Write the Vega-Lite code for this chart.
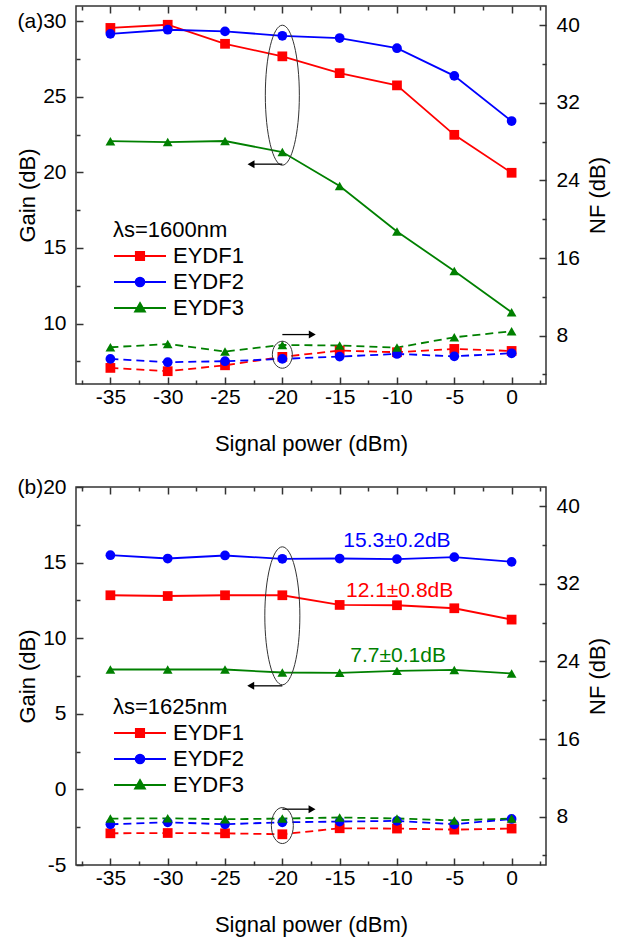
{
  "$schema": "https://vega.github.io/schema/vega-lite/v6.json",
  "background": "white",
  "padding": {"left": 15, "top": 4, "right": 5, "bottom": 5},
  "spacing": 20,
  "config": {
    "view": {"stroke": "#333", "strokeWidth": 1.5},
    "font": "Liberation Sans",
    "axis": {"grid": false, "domain": false, "labelFont": "Liberation Sans", "labelFontSize": 21, "labelColor": "#000", "titleFont": "Liberation Sans", "titleFontSize": 22, "titleFontWeight": "normal", "titleColor": "#000", "tickColor": "#333", "tickWidth": 1.5, "labelPadding": 17, "labelFlush": false, "labelOverlap": false},
    "legend": {"padding": 0, "labelFont": "Liberation Sans", "labelFontSize": 22, "labelColor": "#000", "titleFont": "Liberation Sans", "titleFontSize": 22, "titleFontWeight": "normal", "titleColor": "#000", "labelLimit": 200, "titleLimit": 300}
  },
  "datasets": {
    "a": [
      {"power": -35, "series": "EYDF1", "gain": 29.55, "nf": 4.66},
      {"power": -30, "series": "EYDF1", "gain": 29.76, "nf": 4.32},
      {"power": -25, "series": "EYDF1", "gain": 28.5, "nf": 4.93},
      {"power": -20, "series": "EYDF1", "gain": 27.67, "nf": 5.8},
      {"power": -15, "series": "EYDF1", "gain": 26.56, "nf": 6.45},
      {"power": -10, "series": "EYDF1", "gain": 25.75, "nf": 6.28},
      {"power": -5, "series": "EYDF1", "gain": 22.48, "nf": 6.62},
      {"power": 0, "series": "EYDF1", "gain": 19.97, "nf": 6.41},
      {"power": -35, "series": "EYDF2", "gain": 29.16, "nf": 5.59},
      {"power": -30, "series": "EYDF2", "gain": 29.43, "nf": 5.25},
      {"power": -25, "series": "EYDF2", "gain": 29.32, "nf": 5.35},
      {"power": -20, "series": "EYDF2", "gain": 29.03, "nf": 5.59},
      {"power": -15, "series": "EYDF2", "gain": 28.88, "nf": 5.83},
      {"power": -10, "series": "EYDF2", "gain": 28.21, "nf": 6.1},
      {"power": -5, "series": "EYDF2", "gain": 26.38, "nf": 5.86},
      {"power": 0, "series": "EYDF2", "gain": 23.39, "nf": 6.17},
      {"power": -35, "series": "EYDF3", "gain": 22.06, "nf": 6.79},
      {"power": -30, "series": "EYDF3", "gain": 22.0, "nf": 7.13},
      {"power": -25, "series": "EYDF3", "gain": 22.07, "nf": 6.35},
      {"power": -20, "series": "EYDF3", "gain": 21.34, "nf": 7.03},
      {"power": -15, "series": "EYDF3", "gain": 19.1, "nf": 6.97},
      {"power": -10, "series": "EYDF3", "gain": 16.09, "nf": 6.76},
      {"power": -5, "series": "EYDF3", "gain": 13.47, "nf": 7.82},
      {"power": 0, "series": "EYDF3", "gain": 10.75, "nf": 8.44}
    ],
    "b": [
      {"power": -35, "series": "EYDF1", "gain": 12.84, "nf": 6.27},
      {"power": -30, "series": "EYDF1", "gain": 12.79, "nf": 6.3},
      {"power": -25, "series": "EYDF1", "gain": 12.84, "nf": 6.27},
      {"power": -20, "series": "EYDF1", "gain": 12.84, "nf": 6.17},
      {"power": -15, "series": "EYDF1", "gain": 12.2, "nf": 6.79},
      {"power": -10, "series": "EYDF1", "gain": 12.18, "nf": 6.76},
      {"power": -5, "series": "EYDF1", "gain": 11.98, "nf": 6.65},
      {"power": 0, "series": "EYDF1", "gain": 11.23, "nf": 6.76},
      {"power": -35, "series": "EYDF2", "gain": 15.49, "nf": 7.2},
      {"power": -30, "series": "EYDF2", "gain": 15.27, "nf": 7.41},
      {"power": -25, "series": "EYDF2", "gain": 15.47, "nf": 7.2},
      {"power": -20, "series": "EYDF2", "gain": 15.25, "nf": 7.41},
      {"power": -15, "series": "EYDF2", "gain": 15.27, "nf": 7.48},
      {"power": -10, "series": "EYDF2", "gain": 15.23, "nf": 7.55},
      {"power": -5, "series": "EYDF2", "gain": 15.36, "nf": 7.2},
      {"power": 0, "series": "EYDF2", "gain": 15.05, "nf": 7.75},
      {"power": -35, "series": "EYDF3", "gain": 7.93, "nf": 7.79},
      {"power": -30, "series": "EYDF3", "gain": 7.93, "nf": 7.82},
      {"power": -25, "series": "EYDF3", "gain": 7.93, "nf": 7.72},
      {"power": -20, "series": "EYDF3", "gain": 7.73, "nf": 7.79},
      {"power": -15, "series": "EYDF3", "gain": 7.71, "nf": 7.9},
      {"power": -10, "series": "EYDF3", "gain": 7.84, "nf": 7.8},
      {"power": -5, "series": "EYDF3", "gain": 7.9, "nf": 7.6},
      {"power": 0, "series": "EYDF3", "gain": 7.67, "nf": 7.8}
    ]
  },
  "vconcat": [
    {
      "width": 470,
      "height": 378,
      "layer": [
        {
          "layer": [
            {
              "data": {"name": "a"},
              "mark": {"type": "point", "filled": true, "opacity": 0},
              "encoding": {
                "x": {"field": "power", "type": "quantitative", "scale": {"domain": [-38, 3], "nice": false, "zero": false}, "axis": null},
                "y": {"field": "gain", "type": "quantitative", "scale": {"domain": [6, 31], "nice": false, "zero": false}, "axis": null},
                "fill": {"field": "series", "type": "nominal", "scale": {"domain": ["EYDF1", "EYDF2", "EYDF3"], "range": ["#ff0000", "#0000ff", "#008000"]},
                  "legend": {"title": "λs=1600nm", "orient": "none", "legendX": 37, "legendY": 214, "symbolSize": 2704, "symbolStrokeWidth": 1.8, "symbolOpacity": 1, "clipHeight": 26, "labelOffset": 6, "rowPadding": 0, "titlePadding": 1}},
                "stroke": {"field": "series", "type": "nominal", "scale": {"domain": ["EYDF1", "EYDF2", "EYDF3"], "range": ["#ff0000", "#0000ff", "#008000"]},
                  "legend": {"title": "λs=1600nm", "orient": "none", "legendX": 37, "legendY": 214, "symbolSize": 2704, "symbolStrokeWidth": 1.8, "symbolOpacity": 1, "clipHeight": 26, "labelOffset": 6, "rowPadding": 0, "titlePadding": 1}},
                "shape": {"field": "series", "type": "nominal", "scale": {"domain": ["EYDF1", "EYDF2", "EYDF3"], "range": ["M-1,0H1M-0.16,-0.16H0.16V0.16H-0.16Z", "M-1,0H1M0.17,0C0.17,0.094 0.094,0.17 0,0.17C-0.094,0.17 -0.17,0.094 -0.17,0C-0.17,-0.094 -0.094,-0.17 0,-0.17C0.094,-0.17 0.17,-0.094 0.17,0Z", "M-1,0H1M0,-0.19L0.19,0.14L-0.19,0.14Z"]},
                  "legend": {"title": "λs=1600nm", "orient": "none", "legendX": 37, "legendY": 214, "symbolSize": 2704, "symbolStrokeWidth": 1.8, "symbolOpacity": 1, "clipHeight": 26, "labelOffset": 6, "rowPadding": 0, "titlePadding": 1}}
              }
            },
            {
              "data": {"name": "a"},
              "mark": {"type": "line", "strokeWidth": 1.8},
              "encoding": {
                "x": {"field": "power", "type": "quantitative", "scale": {"domain": [-38, 3], "nice": false, "zero": false},
                  "axis": {"orient": "bottom", "values": [-35, -30, -25, -20, -15, -10, -5, 0],
                    "labelExpr": "'' + datum.value", "tickSize": -7, "labelPadding": 9,
                    "title": "Signal power (dBm)", "titlePadding": 26}},
                "y": {"field": "gain", "type": "quantitative", "scale": {"domain": [6, 31], "nice": false, "zero": false},
                  "axis": {"orient": "left", "values": [10, 15, 20, 25, 30],
                    "labelExpr": "datum.value === 30 ? '(a)30' : '' + datum.value", "tickSize": -7,
                    "title": "Gain (dB)", "titleX": -49, "titleBaseline": "middle", "titleAngle": 270}},
                "color": {"field": "series", "type": "nominal", "scale": {"range": ["#ff0000", "#0000ff", "#008000"]}, "legend": null}
              }
            },
            {
              "data": {"name": "a"},
              "mark": {"type": "point", "filled": true, "size": 95, "opacity": 1, "shape": {"expr": "datum.series === 'EYDF1' ? 'square' : datum.series === 'EYDF2' ? 'circle' : 'triangle-up'"}},
              "encoding": {
                "x": {"field": "power", "type": "quantitative", "scale": {"domain": [-38, 3], "nice": false, "zero": false},
                  "axis": {"orient": "bottom", "values": [-37.5, -32.5, -27.5, -22.5, -17.5, -12.5, -7.5, -2.5, 2.5], "labels": false, "title": null, "tickSize": -4}},
                "y": {"field": "gain", "type": "quantitative", "scale": {"domain": [6, 31], "nice": false, "zero": false},
                  "axis": {"orient": "left", "values": [7.5, 12.5, 17.5, 22.5, 27.5], "labels": false, "title": null, "tickSize": -4}},
                "color": {"field": "series", "type": "nominal", "scale": {"range": ["#ff0000", "#0000ff", "#008000"]}, "legend": null}
              }
            },
            {
              "data": {"values": [{"power": -20, "gain": 25.1}]},
              "mark": {"type": "point", "shape": "M0,-1C0.134,-1 0.243,-0.552 0.243,0C0.243,0.552 0.134,1 0,1C-0.134,1 -0.243,0.552 -0.243,0C-0.243,-0.552 -0.134,-1 0,-1Z", "size": 19600, "filled": false, "stroke": "#333", "strokeWidth": 1, "opacity": 1},
              "encoding": {
                "x": {"field": "power", "type": "quantitative", "scale": {"domain": [-38, 3], "nice": false, "zero": false}, "axis": null},
                "y": {"field": "gain", "type": "quantitative", "scale": {"domain": [6, 31], "nice": false, "zero": false}, "axis": null}
              }
            },
            {
              "data": {"values": [{"power": -20, "power2": -22.5, "gain": 20.54}]},
              "mark": {"type": "rule", "color": "#000", "strokeWidth": 1.3},
              "encoding": {
                "x": {"field": "power", "type": "quantitative", "scale": {"domain": [-38, 3], "nice": false, "zero": false}, "axis": null},
                "x2": {"field": "power2"},
                "y": {"field": "gain", "type": "quantitative", "scale": {"domain": [6, 31], "nice": false, "zero": false}, "axis": null}
              }
            },
            {
              "data": {"values": [{"power": -22.73, "gain": 20.54}]},
              "mark": {"type": "point", "shape": "triangle-left", "size": 64, "filled": true, "color": "#000", "opacity": 1},
              "encoding": {
                "x": {"field": "power", "type": "quantitative", "scale": {"domain": [-38, 3], "nice": false, "zero": false}, "axis": null},
                "y": {"field": "gain", "type": "quantitative", "scale": {"domain": [6, 31], "nice": false, "zero": false}, "axis": null}
              }
            }
          ],
          "resolve": {"axis": {"x": "independent", "y": "independent"}}
        },
        {
          "layer": [
            {
              "data": {"name": "a"},
              "mark": {"type": "line", "strokeWidth": 1.8, "strokeDash": [8, 5]},
              "encoding": {
                "x": {"field": "power", "type": "quantitative", "scale": {"domain": [-38, 3], "nice": false, "zero": false},
                  "axis": {"orient": "top", "values": [-35, -30, -25, -20, -15, -10, -5, 0], "labels": false, "title": null, "tickSize": -7}},
                "y": {"field": "nf", "type": "quantitative", "scale": {"domain": [3, 42], "nice": false, "zero": false},
                  "axis": {"orient": "right", "values": [8, 16, 24, 32, 40], "labelExpr": "'' + datum.value", "tickSize": -7,
                    "title": "NF (dB)", "titleX": 51, "titleBaseline": "middle", "titleAngle": 270}},
                "color": {"field": "series", "type": "nominal", "scale": {"range": ["#ff0000", "#0000ff", "#008000"]}, "legend": null}
              }
            },
            {
              "data": {"name": "a"},
              "mark": {"type": "point", "filled": true, "size": 95, "opacity": 1, "shape": {"expr": "datum.series === 'EYDF1' ? 'square' : datum.series === 'EYDF2' ? 'circle' : 'triangle-up'"}},
              "encoding": {
                "x": {"field": "power", "type": "quantitative", "scale": {"domain": [-38, 3], "nice": false, "zero": false},
                  "axis": {"orient": "top", "values": [-37.5, -32.5, -27.5, -22.5, -17.5, -12.5, -7.5, -2.5, 2.5], "labels": false, "title": null, "tickSize": -4}},
                "y": {"field": "nf", "type": "quantitative", "scale": {"domain": [3, 42], "nice": false, "zero": false},
                  "axis": {"orient": "right", "values": [4, 12, 20, 28, 36], "labels": false, "title": null, "tickSize": -4}},
                "color": {"field": "series", "type": "nominal", "scale": {"range": ["#ff0000", "#0000ff", "#008000"]}, "legend": null}
              }
            },
            {
              "data": {"values": [{"power": -20, "nf": 6.02}]},
              "mark": {"type": "point", "shape": "M0,-1C0.409,-1 0.74,-0.552 0.74,0C0.74,0.552 0.409,1 0,1C-0.409,1 -0.74,0.552 -0.74,0C-0.74,-0.552 -0.409,-1 0,-1Z", "size": 729, "filled": false, "stroke": "#333", "strokeWidth": 1, "opacity": 1},
              "encoding": {
                "x": {"field": "power", "type": "quantitative", "scale": {"domain": [-38, 3], "nice": false, "zero": false}, "axis": null},
                "y": {"field": "nf", "type": "quantitative", "scale": {"domain": [3, 42], "nice": false, "zero": false}, "axis": null}
              }
            },
            {
              "data": {"values": [{"power": -20, "power2": -17.6, "nf": 8.1}]},
              "mark": {"type": "rule", "color": "#000", "strokeWidth": 1.3},
              "encoding": {
                "x": {"field": "power", "type": "quantitative", "scale": {"domain": [-38, 3], "nice": false, "zero": false}, "axis": null},
                "x2": {"field": "power2"},
                "y": {"field": "nf", "type": "quantitative", "scale": {"domain": [3, 42], "nice": false, "zero": false}, "axis": null}
              }
            },
            {
              "data": {"values": [{"power": -17.39, "nf": 8.1}]},
              "mark": {"type": "point", "shape": "triangle-right", "size": 64, "filled": true, "color": "#000", "opacity": 1},
              "encoding": {
                "x": {"field": "power", "type": "quantitative", "scale": {"domain": [-38, 3], "nice": false, "zero": false}, "axis": null},
                "y": {"field": "nf", "type": "quantitative", "scale": {"domain": [3, 42], "nice": false, "zero": false}, "axis": null}
              }
            }
          ],
          "resolve": {"axis": {"x": "independent", "y": "independent"}}
        }
      ],
      "resolve": {"scale": {"y": "independent"}, "axis": {"x": "independent", "y": "independent"}}
    },
    {
      "width": 470,
      "height": 378,
      "layer": [
        {
          "layer": [
            {
              "data": {"name": "b"},
              "mark": {"type": "point", "filled": true, "opacity": 0},
              "encoding": {
                "x": {"field": "power", "type": "quantitative", "scale": {"domain": [-38, 3], "nice": false, "zero": false}, "axis": null},
                "y": {"field": "gain", "type": "quantitative", "scale": {"domain": [-5, 20], "nice": false, "zero": false}, "axis": null},
                "fill": {"field": "series", "type": "nominal", "scale": {"domain": ["EYDF1", "EYDF2", "EYDF3"], "range": ["#ff0000", "#0000ff", "#008000"]},
                  "legend": {"title": "λs=1625nm", "orient": "none", "legendX": 37, "legendY": 210, "symbolSize": 2704, "symbolStrokeWidth": 1.8, "symbolOpacity": 1, "clipHeight": 26, "labelOffset": 6, "rowPadding": 0, "titlePadding": 1}},
                "stroke": {"field": "series", "type": "nominal", "scale": {"domain": ["EYDF1", "EYDF2", "EYDF3"], "range": ["#ff0000", "#0000ff", "#008000"]},
                  "legend": {"title": "λs=1625nm", "orient": "none", "legendX": 37, "legendY": 210, "symbolSize": 2704, "symbolStrokeWidth": 1.8, "symbolOpacity": 1, "clipHeight": 26, "labelOffset": 6, "rowPadding": 0, "titlePadding": 1}},
                "shape": {"field": "series", "type": "nominal", "scale": {"domain": ["EYDF1", "EYDF2", "EYDF3"], "range": ["M-1,0H1M-0.16,-0.16H0.16V0.16H-0.16Z", "M-1,0H1M0.17,0C0.17,0.094 0.094,0.17 0,0.17C-0.094,0.17 -0.17,0.094 -0.17,0C-0.17,-0.094 -0.094,-0.17 0,-0.17C0.094,-0.17 0.17,-0.094 0.17,0Z", "M-1,0H1M0,-0.19L0.19,0.14L-0.19,0.14Z"]},
                  "legend": {"title": "λs=1625nm", "orient": "none", "legendX": 37, "legendY": 210, "symbolSize": 2704, "symbolStrokeWidth": 1.8, "symbolOpacity": 1, "clipHeight": 26, "labelOffset": 6, "rowPadding": 0, "titlePadding": 1}}
              }
            },
            {
              "data": {"name": "b"},
              "mark": {"type": "line", "strokeWidth": 1.8},
              "encoding": {
                "x": {"field": "power", "type": "quantitative", "scale": {"domain": [-38, 3], "nice": false, "zero": false},
                  "axis": {"orient": "bottom", "values": [-35, -30, -25, -20, -15, -10, -5, 0],
                    "labelExpr": "'' + datum.value", "tickSize": -7, "labelPadding": 9,
                    "title": "Signal power (dBm)", "titlePadding": 26}},
                "y": {"field": "gain", "type": "quantitative", "scale": {"domain": [-5, 20], "nice": false, "zero": false},
                  "axis": {"orient": "left", "values": [-5, 0, 5, 10, 15, 20],
                    "labelExpr": "datum.value === 20 ? '(b)20' : '' + datum.value", "tickSize": -7,
                    "title": "Gain (dB)", "titleX": -49, "titleBaseline": "middle", "titleAngle": 270}},
                "color": {"field": "series", "type": "nominal", "scale": {"range": ["#ff0000", "#0000ff", "#008000"]}, "legend": null}
              }
            },
            {
              "data": {"name": "b"},
              "mark": {"type": "point", "filled": true, "size": 95, "opacity": 1, "shape": {"expr": "datum.series === 'EYDF1' ? 'square' : datum.series === 'EYDF2' ? 'circle' : 'triangle-up'"}},
              "encoding": {
                "x": {"field": "power", "type": "quantitative", "scale": {"domain": [-38, 3], "nice": false, "zero": false},
                  "axis": {"orient": "bottom", "values": [-37.5, -32.5, -27.5, -22.5, -17.5, -12.5, -7.5, -2.5, 2.5], "labels": false, "title": null, "tickSize": -4}},
                "y": {"field": "gain", "type": "quantitative", "scale": {"domain": [-5, 20], "nice": false, "zero": false},
                  "axis": {"orient": "left", "values": [-2.5, 2.5, 7.5, 12.5, 17.5], "labels": false, "title": null, "tickSize": -4}},
                "color": {"field": "series", "type": "nominal", "scale": {"range": ["#ff0000", "#0000ff", "#008000"]}, "legend": null}
              }
            },
            {
              "data": {"values": [
                {"power": -10.0, "gain": 16.42, "series": "EYDF2", "label": "15.3±0.2dB"},
                {"power": -9.77, "gain": 13.12, "series": "EYDF1", "label": "12.1±0.8dB"},
                {"power": -9.9, "gain": 8.81, "series": "EYDF3", "label": "7.7±0.1dB"}
              ]},
              "mark": {"type": "text", "font": "Liberation Sans", "fontSize": 21, "baseline": "middle", "align": "center"},
              "encoding": {
                "x": {"field": "power", "type": "quantitative", "scale": {"domain": [-38, 3], "nice": false, "zero": false}, "axis": null},
                "y": {"field": "gain", "type": "quantitative", "scale": {"domain": [-5, 20], "nice": false, "zero": false}, "axis": null},
                "text": {"field": "label"},
                "color": {"field": "series", "type": "nominal", "scale": {"range": ["#ff0000", "#0000ff", "#008000"]}, "legend": null}
              }
            },
            {
              "data": {"values": [{"power": -20, "gain": 11.48}]},
              "mark": {"type": "point", "shape": "M0,-1C0.14,-1 0.254,-0.552 0.254,0C0.254,0.552 0.14,1 0,1C-0.14,1 -0.254,0.552 -0.254,0C-0.254,-0.552 -0.14,-1 0,-1Z", "size": 19044, "filled": false, "stroke": "#333", "strokeWidth": 1, "opacity": 1},
              "encoding": {
                "x": {"field": "power", "type": "quantitative", "scale": {"domain": [-38, 3], "nice": false, "zero": false}, "axis": null},
                "y": {"field": "gain", "type": "quantitative", "scale": {"domain": [-5, 20], "nice": false, "zero": false}, "axis": null}
              }
            },
            {
              "data": {"values": [{"power": -20, "power2": -22.5, "gain": 6.85}]},
              "mark": {"type": "rule", "color": "#000", "strokeWidth": 1.3},
              "encoding": {
                "x": {"field": "power", "type": "quantitative", "scale": {"domain": [-38, 3], "nice": false, "zero": false}, "axis": null},
                "x2": {"field": "power2"},
                "y": {"field": "gain", "type": "quantitative", "scale": {"domain": [-5, 20], "nice": false, "zero": false}, "axis": null}
              }
            },
            {
              "data": {"values": [{"power": -22.76, "gain": 6.85}]},
              "mark": {"type": "point", "shape": "triangle-left", "size": 64, "filled": true, "color": "#000", "opacity": 1},
              "encoding": {
                "x": {"field": "power", "type": "quantitative", "scale": {"domain": [-38, 3], "nice": false, "zero": false}, "axis": null},
                "y": {"field": "gain", "type": "quantitative", "scale": {"domain": [-5, 20], "nice": false, "zero": false}, "axis": null}
              }
            }
          ],
          "resolve": {"axis": {"x": "independent", "y": "independent"}}
        },
        {
          "layer": [
            {
              "data": {"name": "b"},
              "mark": {"type": "line", "strokeWidth": 1.8, "strokeDash": [8, 5]},
              "encoding": {
                "x": {"field": "power", "type": "quantitative", "scale": {"domain": [-38, 3], "nice": false, "zero": false},
                  "axis": {"orient": "top", "values": [-35, -30, -25, -20, -15, -10, -5, 0], "labels": false, "title": null, "tickSize": -7}},
                "y": {"field": "nf", "type": "quantitative", "scale": {"domain": [3, 42], "nice": false, "zero": false},
                  "axis": {"orient": "right", "values": [8, 16, 24, 32, 40], "labelExpr": "'' + datum.value", "tickSize": -7,
                    "title": "NF (dB)", "titleX": 51, "titleBaseline": "middle", "titleAngle": 270}},
                "color": {"field": "series", "type": "nominal", "scale": {"range": ["#ff0000", "#0000ff", "#008000"]}, "legend": null}
              }
            },
            {
              "data": {"name": "b"},
              "mark": {"type": "point", "filled": true, "size": 95, "opacity": 1, "shape": {"expr": "datum.series === 'EYDF1' ? 'square' : datum.series === 'EYDF2' ? 'circle' : 'triangle-up'"}},
              "encoding": {
                "x": {"field": "power", "type": "quantitative", "scale": {"domain": [-38, 3], "nice": false, "zero": false},
                  "axis": {"orient": "top", "values": [-37.5, -32.5, -27.5, -22.5, -17.5, -12.5, -7.5, -2.5, 2.5], "labels": false, "title": null, "tickSize": -4}},
                "y": {"field": "nf", "type": "quantitative", "scale": {"domain": [3, 42], "nice": false, "zero": false},
                  "axis": {"orient": "right", "values": [4, 12, 20, 28, 36], "labels": false, "title": null, "tickSize": -4}},
                "color": {"field": "series", "type": "nominal", "scale": {"range": ["#ff0000", "#0000ff", "#008000"]}, "legend": null}
              }
            },
            {
              "data": {"values": [{"power": -20, "nf": 7.07}]},
              "mark": {"type": "point", "shape": "M0,-1C0.337,-1 0.61,-0.552 0.61,0C0.61,0.552 0.337,1 0,1C-0.337,1 -0.61,0.552 -0.61,0C-0.61,-0.552 -0.337,-1 0,-1Z", "size": 1296, "filled": false, "stroke": "#333", "strokeWidth": 1, "opacity": 1},
              "encoding": {
                "x": {"field": "power", "type": "quantitative", "scale": {"domain": [-38, 3], "nice": false, "zero": false}, "axis": null},
                "y": {"field": "nf", "type": "quantitative", "scale": {"domain": [3, 42], "nice": false, "zero": false}, "axis": null}
              }
            },
            {
              "data": {"values": [{"power": -20, "power2": -17.6, "nf": 8.76}]},
              "mark": {"type": "rule", "color": "#000", "strokeWidth": 1.3},
              "encoding": {
                "x": {"field": "power", "type": "quantitative", "scale": {"domain": [-38, 3], "nice": false, "zero": false}, "axis": null},
                "x2": {"field": "power2"},
                "y": {"field": "nf", "type": "quantitative", "scale": {"domain": [3, 42], "nice": false, "zero": false}, "axis": null}
              }
            },
            {
              "data": {"values": [{"power": -17.41, "nf": 8.76}]},
              "mark": {"type": "point", "shape": "triangle-right", "size": 64, "filled": true, "color": "#000", "opacity": 1},
              "encoding": {
                "x": {"field": "power", "type": "quantitative", "scale": {"domain": [-38, 3], "nice": false, "zero": false}, "axis": null},
                "y": {"field": "nf", "type": "quantitative", "scale": {"domain": [3, 42], "nice": false, "zero": false}, "axis": null}
              }
            }
          ],
          "resolve": {"axis": {"x": "independent", "y": "independent"}}
        }
      ],
      "resolve": {"scale": {"y": "independent"}, "axis": {"x": "independent", "y": "independent"}}
    }
  ],
  "resolve": {"scale": {"x": "independent", "y": "independent", "color": "independent", "fill": "independent", "stroke": "independent", "shape": "independent"}, "legend": {"fill": "independent", "stroke": "independent", "shape": "independent"}}
}
